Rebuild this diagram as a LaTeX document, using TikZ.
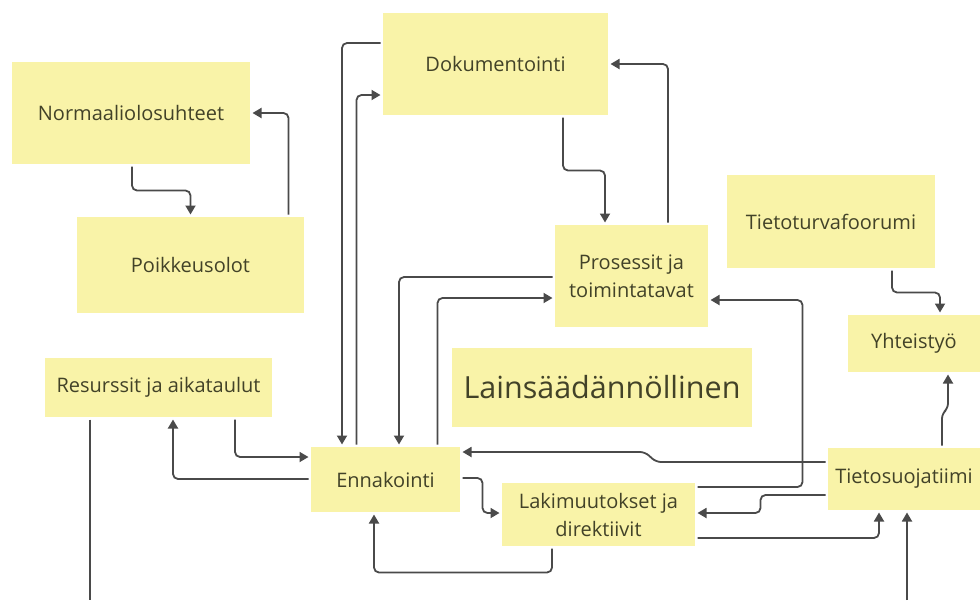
\documentclass[tikz,border=0pt]{standalone}
\usepackage{fontspec}
\setmainfont{Open Sans}
\usetikzlibrary{arrows.meta}
\definecolor{notefill}{RGB}{249,243,168}
\definecolor{notetext}{RGB}{66,66,40}
\definecolor{wire}{RGB}{74,74,74}
\tikzset{
  note/.style={rectangle, fill=notefill, draw=none, text=notetext, align=center,
    inner sep=0pt, outer sep=2.5pt, font=\fontsize{20}{28}\selectfont},
  wirepath/.style={draw=wire, line width=1.8pt, rounded corners=5pt},
  arr/.style={wirepath, -{Triangle[length=9pt,width=10pt]}},
}
\begin{document}
\begin{tikzpicture}[x=1pt,y=-1pt]
\useasboundingbox (0,0) rectangle (980,600);
\fill[white] (0,0) rectangle (980,600);

% sticky notes
\node[note, minimum width=238, minimum height=102] (norm) at (131,113) {Normaaliolosuhteet};
\node[note, minimum width=227, minimum height=96] (poik) at (190.5,265) {Poikkeusolot};
\node[note, minimum width=225, minimum height=102] (doku) at (495.5,64) {Dokumentointi};
\node[note, minimum width=153, minimum height=102] (pros) at (631.5,276) {Prosessit ja\\toimintatavat};
\node[note, minimum width=208, minimum height=93] (tturva) at (831,221.5) {Tietoturvafoorumi};
\node[note, minimum width=132, minimum height=57] (yht) at (914,343.5) {Yhteistyö};
\node[note, minimum width=300, minimum height=79, font=\fontsize{30.5}{36}\selectfont] (lain) at (602,387.5) {Lainsäädännöllinen};
\node[note, minimum width=152, minimum height=62] (tsuoja) at (904,479) {Tietosuojatiimi};
\node[note, minimum width=227, minimum height=59] (res) at (158.5,387.5) {Resurssit ja aikataulut};
\node[note, minimum width=149, minimum height=65] (enn) at (385.5,479.5) {Ennakointi};
\node[note, minimum width=193, minimum height=63] (laki) at (598.5,514.5) {Lakimuutokset ja\\direktiivit};

% free ends running off the lower edge
\coordinate (resout) at (90,600);
\coordinate (tsin) at (907,600);

% connectors
\draw[arr] ([xshift=1pt]norm.south) -- ++(0,24) -| (poik.north);
\draw[arr] ([xshift=98pt]poik.north) |- (norm.east);
\draw[arr] ([yshift=21pt]doku.west) -| ([xshift=-43.5pt]enn.north);
\draw[arr] ([xshift=-29pt]enn.north) |- ([yshift=-31pt]doku.west);
\draw[arr] ([xshift=67.5pt]doku.south) -- ++(0,53) -| ([xshift=-26.5pt]pros.north);
\draw[arr] ([xshift=36.5pt]pros.north) |- (doku.east);
\draw[arr] ([yshift=-1pt]pros.west) -| ([xshift=13.5pt]enn.north);
\draw[arr] ([xshift=52pt]enn.north) |- ([yshift=-22pt]pros.west);
\draw[arr] ([yshift=17pt]tsuoja.west) -- (656,462) -- (645,452) -- ([yshift=27.5pt]enn.east);
\draw[arr] ([yshift=27.5pt]laki.east) -- ++(105,0) |- ([yshift=-24pt]pros.east);
\draw[arr] ([yshift=-16pt]tsuoja.west) -- ++(-65,0) |- ([yshift=1.5pt]laki.east);
\draw[arr] ([yshift=-23.5pt]laki.east) -| ([xshift=-25pt]tsuoja.south);
\draw[arr] (tsin) -- ([xshift=3pt]tsuoja.south);
\draw[arr] ([xshift=38pt]tsuoja.north) -- ++(0,-32) -- ++(6,-5) -- ([xshift=34pt]yht.south);
\draw[arr] ([xshift=61pt]tturva.south) -- ++(0,22) -| ([xshift=26pt]yht.north);
\draw[arr] ([xshift=76.5pt]res.south) |- ([yshift=22.5pt]enn.west);
\draw[arr] ([yshift=0.5pt]enn.west) -| ([xshift=14.5pt]res.south);
\draw[arr] ([yshift=1.5pt]enn.east) -- ++(20,0) |- ([yshift=1.5pt]laki.west);
\draw[arr] ([xshift=-46.5pt]laki.south) -- ++(0,24) -| ([xshift=-11.5pt]enn.south);
\draw[wirepath] ([xshift=-68.5pt]res.south) -- (resout);
\end{tikzpicture}
\end{document}
